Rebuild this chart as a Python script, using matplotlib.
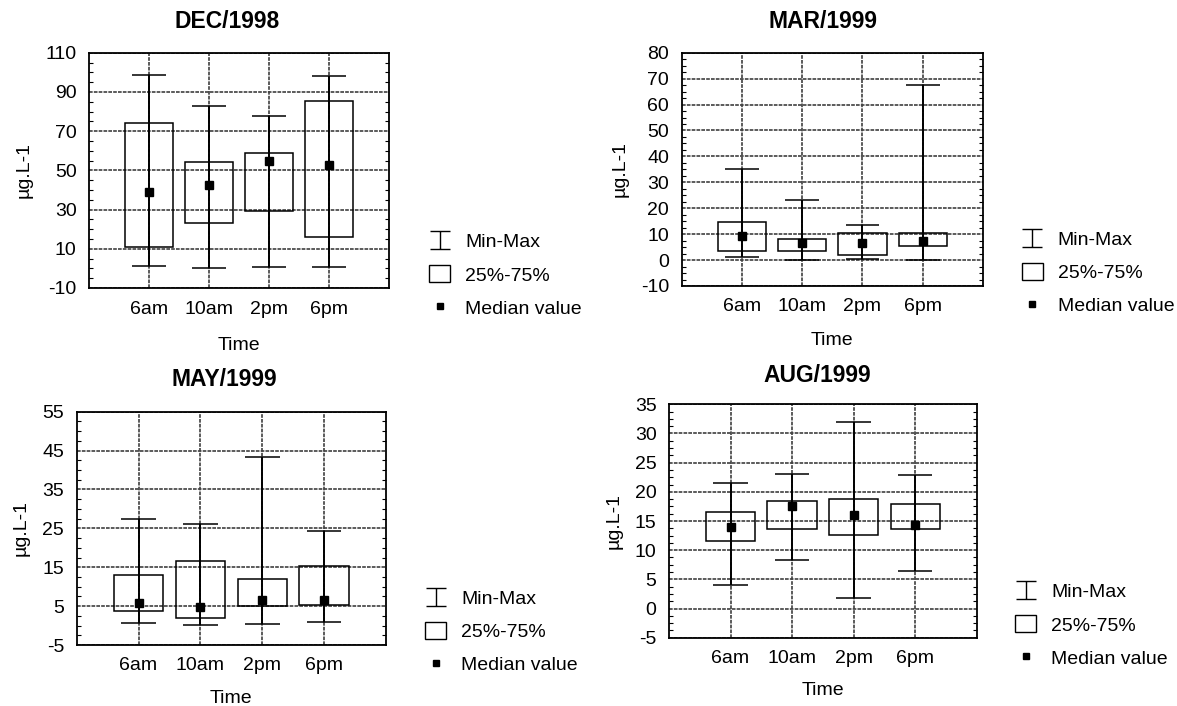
import numpy as np
import matplotlib
matplotlib.use("Agg")
import matplotlib.pyplot as plt
from matplotlib.lines import Line2D
from matplotlib.patches import Rectangle
from matplotlib.path import Path

plt.rcParams['font.family'] = ['Liberation Sans', 'DejaVu Sans']
plt.rcParams['axes.unicode_minus'] = False

categories = ['6am', '10am', '2pm', '6pm']

dec_min = [1.0, 0.0, 0.5, 0.5]
dec_q1 = [10.9, 23.2, 29.5, 15.9]
dec_med = [39.2, 42.4, 54.8, 52.6]
dec_q3 = [74.4, 54.1, 58.6, 85.6]
dec_max = [98.5, 82.8, 77.9, 98.1]

mar_min = [1.3, 0.2, 0.4, 0.2]
mar_q1 = [3.4, 3.4, 2.1, 5.3]
mar_med = [9.4, 6.7, 6.5, 7.2]
mar_q3 = [14.6, 8.3, 10.5, 10.5]
mar_max = [35.0, 23.2, 13.4, 67.5]

may_min = [0.6, 0.1, 0.4, 1.0]
may_q1 = [3.7, 2.0, 5.0, 5.4]
may_med = [5.7, 4.7, 6.7, 6.7]
may_q3 = [12.9, 16.5, 12.1, 15.4]
may_max = [27.4, 26.1, 43.4, 24.3]

aug_min = [4.0, 8.3, 1.8, 6.4]
aug_q1 = [11.6, 13.6, 12.6, 13.6]
aug_med = [13.9, 17.6, 16.0, 14.4]
aug_q3 = [16.5, 18.5, 18.7, 17.9]
aug_max = [21.5, 23.0, 31.9, 22.9]

titles = ['DEC/1998', 'MAR/1999', 'MAY/1999', 'AUG/1999']
y_ticks = [np.arange(-10, 111, 20), np.arange(-10, 81, 10),
           np.arange(-5, 56, 10), np.arange(-5, 36, 5)]
legend_labels = ['Min-Max', '25%-75%', 'Median value']

panels = [
    (dec_min, dec_q1, dec_med, dec_q3, dec_max),
    (mar_min, mar_q1, mar_med, mar_q3, mar_max),
    (may_min, may_q1, may_med, may_q3, may_max),
    (aug_min, aug_q1, aug_med, aug_q3, aug_max),
]

W, H = 1177, 706
# axes boxes in pixels: (left, top, right, bottom)
boxes_px = [(89, 52.7, 389, 288), (681.7, 52.7, 983, 286),
            (76.7, 411.7, 386, 645), (669, 404.3, 976.7, 637.7)]
title_px = [(227, 22), (823, 22), (224, 380), (817, 375)]
legend_px = [(429, 275), (1021.7, 272.7), (425, 631.7), (1015, 625)]
xlabel_pad = [14, 12, 11.5, 11]

fig = plt.figure(figsize=(W / 100, H / 100), dpi=100)

ibeam = Path([(-1, 0.85), (1, 0.85), (0, 0.85), (0, -0.85), (-1, -0.85), (1, -0.85)],
             [Path.MOVETO, Path.LINETO, Path.MOVETO, Path.LINETO, Path.MOVETO, Path.LINETO])

FS = 14
for i, (mn, q1, md, q3, mx) in enumerate(panels):
    l, t, r, b = boxes_px[i]
    ax = fig.add_axes([l / W, 1 - b / H, (r - l) / W, (b - t) / H])
    x = np.arange(1, len(categories) + 1)
    mn, q1, md, q3, mx = map(np.asarray, (mn, q1, md, q3, mx))
    ax.bar(x, q3 - q1, bottom=q1, width=0.8, fill=False, edgecolor='black', linewidth=1.1, zorder=3)
    ax.vlines(x, mn, mx, color='black', linewidth=1.4, zorder=4)
    ax.hlines(mx, x - 0.28, x + 0.28, color='black', linewidth=1.1, zorder=4)
    ax.hlines(mn, x - 0.28, x + 0.28, color='black', linewidth=1.1, zorder=4)
    ax.plot(x, md, 's', color='black', markersize=5.5, zorder=5)
    ax.set_xlim(0, len(categories) + 1)
    yt = y_ticks[i]
    ax.set_ylim(yt[0], yt[-1])
    ax.set_yticks(yt)
    ax.set_xticks(x)
    ax.set_xticklabels(categories)
    ax.tick_params(axis='both', which='major', length=0, labelsize=FS, pad=9)
    ax.set_yticks(np.arange(yt[0], yt[-1] + 0.01, (yt[1] - yt[0]) / 4), minor=True)
    ax.tick_params(axis='y', which='minor', direction='in', length=3, width=0.8, left=True, right=True)
    ax.grid(True, which='major', color='#404040', linestyle=(0, (2.2, 0.7)), linewidth=1.2)
    ax.set_axisbelow(True)
    for s in ax.spines.values():
        s.set_linewidth(1.3)
    ax.set_ylabel('µg.L-1', fontsize=FS, labelpad=9)
    ax.set_xlabel('Time', fontsize=FS, labelpad=xlabel_pad[i])

    fig.text(title_px[i][0] / W, 1 - title_px[i][1] / H, titles[i], fontsize=16.5,
             fontweight='bold', ha='center', va='center')

    handles = [
        Line2D([], [], linestyle='none', marker=ibeam, markersize=15, markeredgewidth=1.0,
               color='black'),
        Rectangle((0, 0), 1, 1, facecolor='white', edgecolor='black', linewidth=1.0),
        Line2D([], [], linestyle='none', marker='s', markersize=5, color='black'),
    ]
    lx, ly = legend_px[i]
    fig.legend(handles, legend_labels, loc='center left', bbox_to_anchor=(lx / W, 1 - ly / H),
               frameon=False, fontsize=FS, handlelength=1.1, handleheight=0.95,
               handletextpad=0.75, labelspacing=0.72, borderpad=0, borderaxespad=0)

fig.savefig('out.png', dpi=100)
